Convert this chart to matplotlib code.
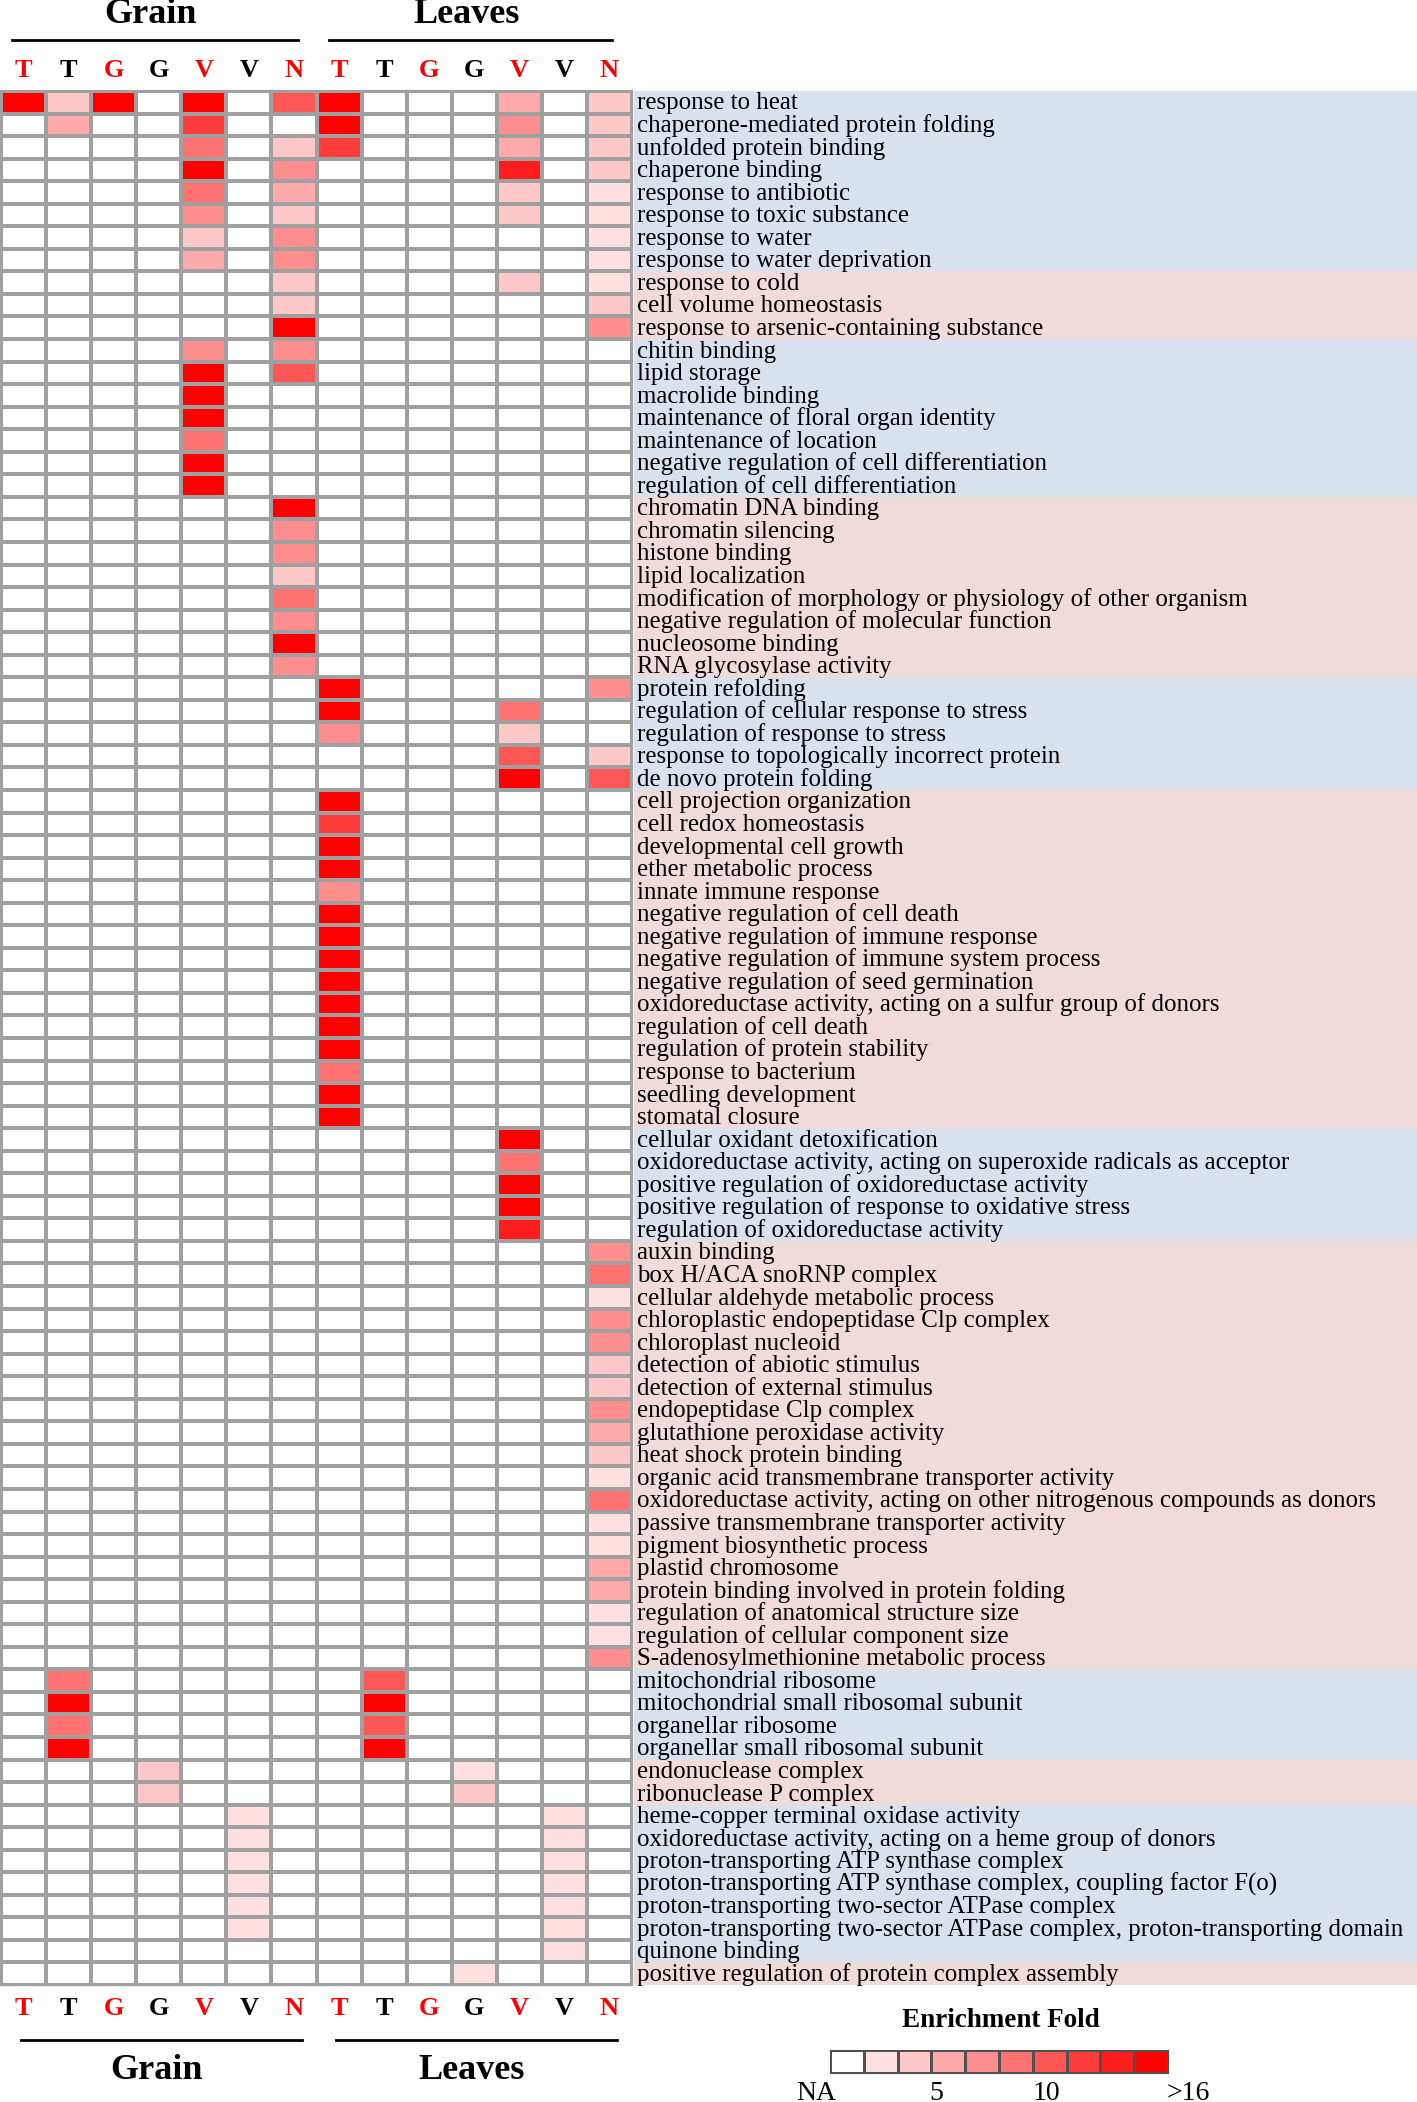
import numpy as np
import matplotlib
matplotlib.use("Agg")
import matplotlib.pyplot as plt
from matplotlib.colors import ListedColormap, BoundaryNorm

plt.rcParams['font.family'] = ['Liberation Serif', 'DejaVu Serif']

# %% data
col_letters = ['T', 'T', 'G', 'G', 'V', 'V', 'N'] * 2
col_colors = ['red', 'black', 'red', 'black', 'red', 'black', 'red'] * 2
tissues = ['Grain', 'Leaves']

terms = [
    'response to heat', 'chaperone-mediated protein folding', 'unfolded protein binding',
    'chaperone binding', 'response to antibiotic', 'response to toxic substance',
    'response to water', 'response to water deprivation',
    'response to cold', 'cell volume homeostasis', 'response to arsenic-containing substance',
    'chitin binding', 'lipid storage', 'macrolide binding', 'maintenance of floral organ identity',
    'maintenance of location', 'negative regulation of cell differentiation',
    'regulation of cell differentiation',
    'chromatin DNA binding', 'chromatin silencing', 'histone binding', 'lipid localization',
    'modification of morphology or physiology of other organism',
    'negative regulation of molecular function', 'nucleosome binding', 'RNA glycosylase activity',
    'protein refolding', 'regulation of cellular response to stress', 'regulation of response to stress',
    'response to topologically incorrect protein', 'de novo protein folding',
    'cell projection organization', 'cell redox homeostasis', 'developmental cell growth',
    'ether metabolic process', 'innate immune response', 'negative regulation of cell death',
    'negative regulation of immune response', 'negative regulation of immune system process',
    'negative regulation of seed germination',
    'oxidoreductase activity, acting on a sulfur group of donors', 'regulation of cell death',
    'regulation of protein stability', 'response to bacterium', 'seedling development',
    'stomatal closure',
    'cellular oxidant detoxification',
    'oxidoreductase activity, acting on superoxide radicals as acceptor',
    'positive regulation of oxidoreductase activity',
    'positive regulation of response to oxidative stress', 'regulation of oxidoreductase activity',
    'auxin binding', 'box H/ACA snoRNP complex', 'cellular aldehyde metabolic process',
    'chloroplastic endopeptidase Clp complex', 'chloroplast nucleoid',
    'detection of abiotic stimulus', 'detection of external stimulus', 'endopeptidase Clp complex',
    'glutathione peroxidase activity', 'heat shock protein binding',
    'organic acid transmembrane transporter activity',
    'oxidoreductase activity, acting on other nitrogenous compounds as donors',
    'passive transmembrane transporter activity', 'pigment biosynthetic process',
    'plastid chromosome', 'protein binding involved in protein folding',
    'regulation of anatomical structure size', 'regulation of cellular component size',
    'S-adenosylmethionine metabolic process',
    'mitochondrial ribosome', 'mitochondrial small ribosomal subunit', 'organellar ribosome',
    'organellar small ribosomal subunit',
    'endonuclease complex', 'ribonuclease P complex',
    'heme-copper terminal oxidase activity',
    'oxidoreductase activity, acting on a heme group of donors',
    'proton-transporting ATP synthase complex',
    'proton-transporting ATP synthase complex, coupling factor F(o)',
    'proton-transporting two-sector ATPase complex',
    'proton-transporting two-sector ATPase complex, proton-transporting domain',
    'quinone binding',
    'positive regulation of protein complex assembly',
]

# enrichment level per row (0 = NA, 9 = >16), columns T T G G V V N
grain_fold = [
    '9290906', '0300700', '0000502', '0000904', '0000503', '0000402', '0000204', '0000304',
    '0000002', '0000002', '0000009',
    '0000404', '0000906', '0000900', '0000900', '0000500', '0000900', '0000900',
    '0000009', '0000004', '0000004', '0000002', '0000005', '0000004', '0000009', '0000004',
    '0000000', '0000000', '0000000', '0000000', '0000000',
] + ['0000000'] * 15 + ['0000000'] * 5 + ['0000000'] * 19 + [
    '0500000', '0900000', '0500000', '0900000',
    '0002000', '0002000',
    '0000010', '0000010', '0000010', '0000010', '0000010', '0000010', '0000000',
    '0000000',
]

leaf_fold = [
    '9000302', '9000402', '7000302', '0000802', '0000201', '0000201', '0000001', '0000001',
    '0000201', '0000002', '0000004',
    '0000000', '0000000', '0000000', '0000000', '0000000', '0000000', '0000000',
    '0000000', '0000000', '0000000', '0000000', '0000000', '0000000', '0000000', '0000000',
    '9000004', '9000500', '4000200', '0000602', '0000906',
    '9000000', '7000000', '9000000', '9000000', '4000000', '9000000', '9000000', '9000000',
    '9000000', '9000000', '9000000', '9000000', '5000000', '9000000', '9000000',
    '0000900', '0000500', '0000900', '0000900', '0000800',
    '0000004', '0000005', '0000001', '0000004', '0000004', '0000002', '0000002', '0000004',
    '0000003', '0000002', '0000001', '0000005', '0000001', '0000001', '0000003', '0000003',
    '0000001', '0000001', '0000004',
    '0600000', '0900000', '0600000', '0900000',
    '0001000', '0002000',
    '0000010', '0000010', '0000010', '0000010', '0000010', '0000010', '0000010',
    '0001000',
]

band_sizes = [8, 3, 7, 8, 5, 15, 5, 19, 4, 2, 7, 1]
band_colors = ['#d9e2ec', '#f1dbda']

level_colors = ['#ffffff', '#ffe0e0', '#ffc8c8', '#ffaaaa', '#ff8e8e',
                '#ff7272', '#ff5656', '#ff3c3c', '#ff1e1e', '#ff0000']
legend_ticks = ['NA', '5', '10', '>16']
legend_tick_pos = [-0.4, 3.15, 6.4, 10.6]

# %%
fold = np.array([[int(c) for c in g + l] for g, l in zip(grain_fold, leaf_fold)])
n_rows, n_cols = fold.shape

cmap = ListedColormap(level_colors)
norm = BoundaryNorm(np.arange(-0.5, 10.5, 1), cmap.N)

W, H = 1417, 2102
fig = plt.figure(figsize=(W / 100, H / 100), dpi=100)

def px_axes(x0, y0, x1, y1):
    return fig.add_axes([x0 / W, 1 - y1 / H, (x1 - x0) / W, (y1 - y0) / H])

# heatmap
ax = px_axes(1, 91, 632, 1985)
ax.pcolormesh(fold, cmap=cmap, norm=norm, edgecolors='#a0a0a0', linewidth=1.6)
ax.set_xlim(0, n_cols)
ax.set_ylim(n_rows, 0)
ax.set_xticks([])
ax.set_yticks([])
for s in ax.spines.values():
    s.set_color('#a0a0a0')
    s.set_linewidth(1.6)

for j, (lt, cc) in enumerate(zip(col_letters, col_colors)):
    ax.text(j + 0.5, -0.93, lt, color=cc, fontsize=19, fontweight='bold',
            ha='center', va='center', clip_on=False)
    ax.text(j + 0.5, n_rows + 1.05, lt, color=cc, fontsize=19, fontweight='bold',
            ha='center', va='center', clip_on=False)

top_lines = [(0.24, 6.59), (7.28, 13.56)]
bot_lines = [(0.44, 6.68), (7.43, 13.67)]
for k, name in enumerate(tissues):
    x0, x1 = top_lines[k]
    ax.plot([x0, x1], [-2.27, -2.27], color='black', lw=2, clip_on=False)
    ax.text((x0 + x1) / 2 - 0.1, -3.4, name, fontsize=26, fontweight='bold',
            ha='center', va='center', clip_on=False)
    x0, x1 = bot_lines[k]
    ax.plot([x0, x1], [n_rows + 2.45, n_rows + 2.45], color='black', lw=2, clip_on=False)
    ax.text((x0 + x1) / 2 - 0.1, n_rows + 3.8, name, fontsize=26, fontweight='bold',
            ha='center', va='center', clip_on=False)

# term labels with coloured bands
lab = px_axes(634, 91, 1417, 1985)
lab.set_xlim(0, 1)
lab.set_ylim(n_rows, 0)
lab.axis('off')
start = 0
for b, size in enumerate(band_sizes):
    lab.axhspan(start, start + size, color=band_colors[b % 2], lw=0)
    start += size
for i, t in enumerate(terms):
    lab.text(0.004, i + 0.82, t, fontsize=17.9, ha='left', va='baseline')

# legend
leg = px_axes(830, 2050, 1168, 2073)
leg.pcolormesh(np.arange(10).reshape(1, -1), cmap=cmap, norm=norm,
               edgecolors='#505050', linewidth=1)
leg.set_xlim(0, 10)
leg.set_ylim(0, 1)
leg.set_xticks([])
leg.set_yticks([])
for s in leg.spines.values():
    s.set_color('#505050')
for p, t in zip(legend_tick_pos, legend_ticks):
    leg.text(p, -0.9, t, fontsize=20, ha='center', va='center', clip_on=False)
leg.text(5.05, 2.3, 'Enrichment Fold', fontsize=19.5, fontweight='bold',
         ha='center', va='center', clip_on=False)

fig.savefig('out.png', dpi=100)
